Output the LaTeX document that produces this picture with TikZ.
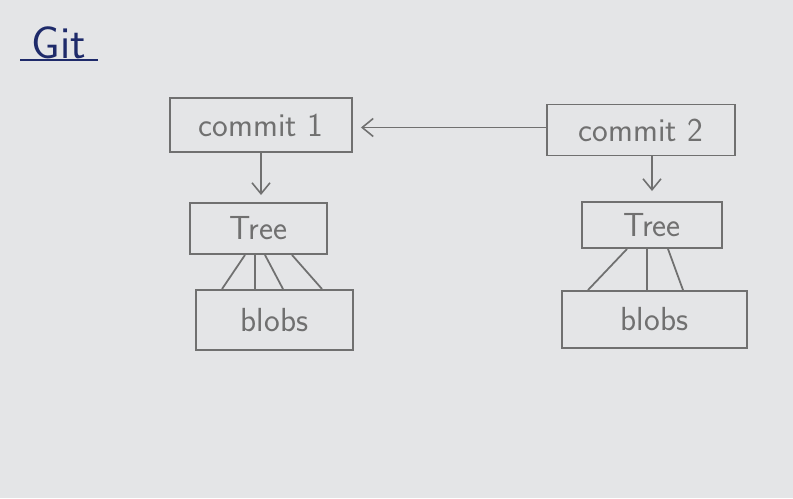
\documentclass[tikz,border=0pt]{standalone}
\usepackage{tikz}
\usetikzlibrary{arrows.meta}
\definecolor{paper}{HTML}{E4E5E7}
\definecolor{pencil}{HTML}{707070}
\definecolor{inkblue}{HTML}{1E2A6A}
\tikzset{
  sketchbox/.style={draw=pencil,line width=1.1pt,text=pencil,font=\sffamily\fontsize{19}{22}\selectfont,inner sep=0pt},
  sketcharrow/.style={draw=pencil,line width=0.9pt,-{Straight Barb[length=2.2mm,width=3.6mm]}},
  sketchline/.style={draw=pencil,line width=1pt}
}
\begin{document}
\begin{tikzpicture}
                %Paper
                \fill[paper] (0,0) rectangle (15.86,9.96);
                \useasboundingbox (0,0) rectangle (15.86,9.96);
                %Title
                \node[text=inkblue,font=\sffamily\fontsize{26}{30}\selectfont,inner sep=1pt] (git) at (1.18,9.1) {Git};
                \draw[inkblue,line width=1.3pt] (0.4,8.76)--(1.96,8.76);
                %Commits
                \node[sketchbox,minimum width=3.64cm,minimum height=1.08cm] (commitA) at (5.22,7.46) {commit 1};
                \node[sketchbox,minimum width=3.76cm,minimum height=1.02cm] (commitB) at (12.82,7.36) {commit 2};
                %Trees
                \node[sketchbox,minimum width=2.74cm,minimum height=1.02cm] (treeA) at (5.17,5.39) {Tree};
                \node[sketchbox,minimum width=2.8cm,minimum height=0.92cm] (treeB) at (13.04,5.46) {Tree};
                %Blobs
                \node[sketchbox,minimum width=3.14cm,minimum height=1.2cm] (blobsA) at (5.49,3.56) {blobs};
                \node[sketchbox,minimum width=3.7cm,minimum height=1.14cm] (blobsB) at (13.09,3.57) {blobs};
                %Arrows
                \draw[sketcharrow,shorten >=0.16cm] ([yshift=0.05cm]commitB.west)--([yshift=0.05cm]commitA.east |- commitB.west);
                \draw[sketcharrow,shorten >=0.14cm] (commitA.south)--(commitA.south |- treeA.north);
                \draw[sketcharrow,shorten >=0.2cm] ([xshift=0.22cm]commitB.south)--([xshift=0.22cm]commitB.south |- treeB.north);
                %Tree to blobs
                \foreach \t/\b in {-0.27/-1.05,-0.07/-0.39,0.13/0.17,0.67/0.95}
                  \draw[sketchline] ([xshift=\t cm]treeA.south)--([xshift=\b cm]blobsA.north);
                \foreach \t/\b in {-0.5/-1.33,-0.1/-0.15,0.32/0.57}
                  \draw[sketchline] ([xshift=\t cm]treeB.south)--([xshift=\b cm]blobsB.north);
            \end{tikzpicture}
\end{document}
